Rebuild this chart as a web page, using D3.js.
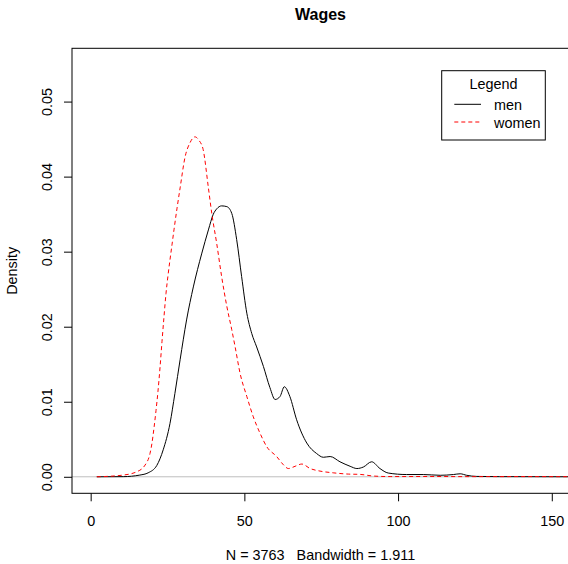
<!DOCTYPE html>
<html>
<head>
<meta charset="utf-8">
<script src="https://cdn.jsdelivr.net/npm/d3@7"></script>
<style>
  body { margin: 0; background: #fff; }
  svg { display: block; font-family: "Liberation Sans", Arial, Helvetica, sans-serif; }
  text { white-space: pre; }
</style>
</head>
<body>
<svg id="chart" width="568" height="564"></svg>
<script>
// density estimates (wage, density)
const menWage = [2, 10.6, 16, 18.7, 21.5, 23.6, 25.8, 27.4, 29.1, 31.2, 33.4, 36.1, 38.3, 39.9, 41, 42.6, 44.3, 45.9, 47.5, 49.1, 50.8, 52.4, 54, 56.2, 58.3, 60, 61.6, 63, 64.8, 67, 70.3, 73.5, 75.7, 77.9, 81.1, 84.4, 86.6, 88.7, 91.4, 94.1, 96.8, 102.8, 108.2, 113.7, 118, 120.2, 122.3, 125.6, 133, 145, 158];
const menDensity = [0, 0.00002, 0.00023, 0.00053, 0.0015, 0.0036, 0.0071, 0.0111, 0.0156, 0.0209, 0.0253, 0.0297, 0.0329, 0.035, 0.0357, 0.0361, 0.036, 0.0351, 0.0316, 0.0267, 0.0218, 0.0191, 0.0173, 0.0147, 0.0119, 0.0103, 0.0107, 0.012, 0.0107, 0.0076, 0.0045, 0.0031, 0.0026, 0.0027, 0.002, 0.0014, 0.0011, 0.0013, 0.002, 0.0011, 0.0005, 0.0003, 0.0003, 0.0002, 0.0003, 0.0004, 0.0002, 0.00005, 0.00002, 0.00001, 0];

const womenWage = [2, 10.6, 15, 17.7, 19.3, 19.95, 20.6, 21.25, 21.9, 22.55, 23.2, 23.85, 24.5, 25.15, 25.8, 26.45, 27.1, 28.1, 29.1, 30.7, 32.3, 33.9, 35.3, 36.6, 38.3, 39.4, 41, 42.6, 44.3, 45.9, 47, 48.6, 50.8, 52.9, 55.1, 57.3, 60.5, 62.7, 64.3, 66.5, 68.7, 71.4, 74.6, 78.9, 83.8, 87.6, 92, 97.4, 110, 125, 140, 158];
const womenDensity = [0, 0.00023, 0.00067, 0.00156, 0.0031, 0.0045, 0.0065, 0.0088, 0.0114, 0.0145, 0.018, 0.0213, 0.0244, 0.0268, 0.0289, 0.0309, 0.0329, 0.0358, 0.0385, 0.0426, 0.0445, 0.0453, 0.0448, 0.0436, 0.0385, 0.0351, 0.0311, 0.0267, 0.0227, 0.0196, 0.0173, 0.0138, 0.0107, 0.008, 0.0058, 0.004, 0.0027, 0.0016, 0.0011, 0.0014, 0.0017, 0.0011, 0.00076, 0.00053, 0.00036, 0.00032, 0.0001, 0.00003, 0.00004, 0.00002, 0.00003, 0.00001];

const xTicks = [0, 50, 100, 150];
const yTicks = [0, 0.01, 0.02, 0.03, 0.04, 0.05];
const legendLabels = ["men", "women"];

const svg = d3.select("#chart");
const fontSize = 14.4;

// plot region (right edge sits just outside the window, as in the original)
const plotLeft = 72, plotRight = 569, plotTop = 48.3, plotBottom = 493.3;

const x = d3.scaleLinear().domain([-6.07, 155.6]).range([plotLeft, plotRight]);
const y = d3.scaleLinear().domain([-0.0022, 0.0571]).range([plotBottom, plotTop]);

svg.append("clipPath").attr("id", "plotclip")
    .append("rect")
    .attr("x", plotLeft).attr("y", plotTop)
    .attr("width", plotRight - plotLeft).attr("height", plotBottom - plotTop);

// zero line
svg.append("line")
    .attr("x1", plotLeft).attr("x2", plotRight)
    .attr("y1", y(0)).attr("y2", y(0))
    .attr("stroke", "#bebebe")
    .attr("stroke-width", 1);

const line = d3.line()
    .x(d => x(d[0]))
    .y(d => y(d[1]))
    .curve(d3.curveMonotoneX);

const plot = svg.append("g").attr("clip-path", "url(#plotclip)");

plot.append("path")
    .datum(menWage.map((w, i) => [w, menDensity[i]]))
    .attr("d", line)
    .attr("fill", "none")
    .attr("stroke", "black")
    .attr("stroke-width", 1);

plot.append("path")
    .datum(womenWage.map((w, i) => [w, womenDensity[i]]))
    .attr("d", line)
    .attr("fill", "none")
    .attr("stroke", "red")
    .attr("stroke-width", 1)
    .attr("stroke-dasharray", "4,3");

// box
svg.append("rect")
    .attr("x", plotLeft).attr("y", plotTop)
    .attr("width", plotRight - plotLeft).attr("height", plotBottom - plotTop)
    .attr("fill", "none")
    .attr("stroke", "black")
    .attr("stroke-width", 1);

// x axis
const xAxis = svg.append("g")
    .attr("transform", `translate(0,${plotBottom})`)
    .call(d3.axisBottom(x).tickValues(xTicks).tickSize(8).tickFormat(d3.format("d")));
xAxis.select(".domain").remove();
xAxis.attr("font-family", null).attr("font-size", fontSize);
xAxis.selectAll("text")
    .attr("y", 32.3).attr("dy", null)
    .attr("fill", "black");

// y axis
const yAxis = svg.append("g")
    .attr("transform", `translate(${plotLeft},0)`)
    .call(d3.axisLeft(y).tickValues(yTicks).tickSize(8).tickFormat(d3.format(".2f")));
yAxis.select(".domain").remove();
yAxis.attr("font-family", null).attr("font-size", fontSize);
yAxis.selectAll("text")
    .attr("x", null).attr("dy", null)
    .attr("transform", "translate(-19.7,0) rotate(-90)")
    .attr("text-anchor", "middle")
    .attr("fill", "black");
svg.selectAll(".tick line").attr("stroke", "black");

// titles
svg.append("text")
    .attr("x", (plotLeft + plotRight) / 2).attr("y", 20)
    .attr("text-anchor", "middle")
    .attr("font-size", 16)
    .attr("font-weight", "bold")
    .text("Wages");

svg.append("text")
    .attr("x", (plotLeft + plotRight) / 2).attr("y", 560)
    .attr("text-anchor", "middle")
    .attr("font-size", fontSize)
    .text("N = 3763   Bandwidth = 1.911");

svg.append("text")
    .attr("transform", `translate(16.8,${(plotTop + plotBottom) / 2}) rotate(-90)`)
    .attr("text-anchor", "middle")
    .attr("font-size", fontSize)
    .text("Density");

// legend
const legend = svg.append("g");
legend.append("rect")
    .attr("x", 441.7).attr("y", 70.7)
    .attr("width", 103.6).attr("height", 69.3)
    .attr("fill", "white")
    .attr("stroke", "black")
    .attr("stroke-width", 1);
legend.append("text")
    .attr("x", 493.5).attr("y", 88.6)
    .attr("text-anchor", "middle")
    .attr("font-size", fontSize)
    .text("Legend");

const legendColors = ["black", "red"];
const legendDash = [null, "4,3"];
legendLabels.forEach(function(lab, i) {
    const ly = 104.3 + i * 17.7;
    legend.append("line")
        .attr("x1", 454.3).attr("x2", 481)
        .attr("y1", ly).attr("y2", ly)
        .attr("stroke", legendColors[i])
        .attr("stroke-width", 1)
        .attr("stroke-dasharray", legendDash[i]);
    legend.append("text")
        .attr("x", 494).attr("y", ly + 5.5)
        .attr("font-size", fontSize)
        .text(lab);
});
</script>
</body>
</html>
